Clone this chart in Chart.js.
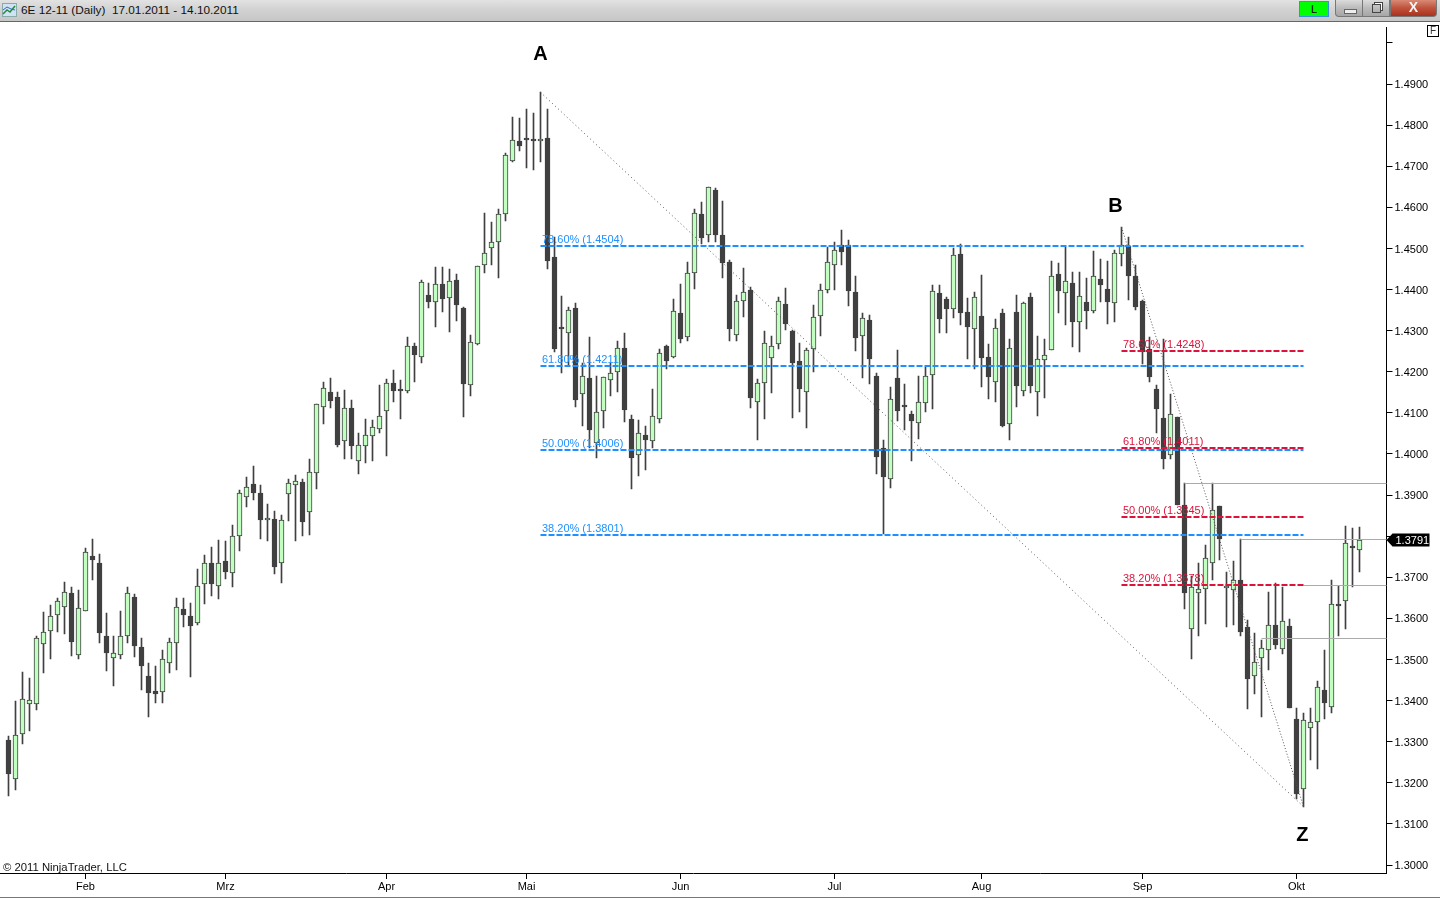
<!DOCTYPE html>
<html>
<head>
<meta charset="utf-8">
<title>6E 12-11 (Daily)</title>
<script src="https://cdn.jsdelivr.net/npm/chart.js@4"></script>
<style>
  html, body { margin:0; padding:0; background:#fff; overflow:hidden; }
  #wrap { position:relative; width:1440px; height:900px; font-family:"Liberation Sans", Arial, sans-serif; }
  #plot { position:absolute; left:0; top:0; }
  #bar { position:absolute; left:0; top:0; width:1440px; height:21px; background:linear-gradient(#e2e2e2,#d2d2d2 45%,#c6c6c6); border-bottom:1px solid #666; }
  #bar .title { position:absolute; left:21px; top:3px; font-size:11.8px; line-height:15px; color:#111; white-space:pre; }
  #bar svg { position:absolute; left:2px; top:3px; }
  .live { position:absolute; left:1299px; top:1px; width:28px; height:14px; background:#00ff00; border:1px solid #3a8fe0; font-size:11px; line-height:14px; text-align:center; color:#000; }
  .win { position:absolute; top:0; height:17px; border:1px solid #777; border-top:none; box-sizing:border-box; background:linear-gradient(#dcdcdc,#bbb 50%,#a6a6a6); }
  .win i { position:absolute; display:block; }
  #min { left:1335px; width:28px; border-radius:0 0 0 4px; }
  #min i { left:8px; top:9px; width:11px; height:3px; background:#eee; border:1px solid #666; }
  #res { left:1362px; width:28px; }
  #res i { left:9px; top:4px; width:7px; height:7px; border:1px solid #444; box-shadow:2px -2px 0 -1px #fff, 2px -2px 0 0 #444; }
  #cls { left:1390px; width:47px; border-radius:0 0 4px 0; background:linear-gradient(#d98a76,#c0533c 50%,#a8321f); color:#f4f4f4; font:bold 14px/15px "Liberation Sans", Arial, sans-serif; text-align:center; }
  #fbox { position:absolute; left:1427px; top:25px; width:10px; height:10px; border:1px solid #000; font-size:10px; line-height:10px; text-align:center; color:#333; background:#fff; }
  #foot { position:absolute; left:0; top:897px; width:1440px; height:3px; background:#fff; border-top:1px solid #777; box-sizing:border-box; }
</style>
</head>
<body>
<div id="wrap">
  <canvas id="plot" width="1440" height="897"></canvas>
  <div id="bar">
    <svg width="16" height="15"><rect x="0.5" y="0.5" width="14" height="13" fill="#cfe3f5" stroke="#8aa"/><polyline points="1,11 5,7 8,9 13,3" fill="none" stroke="#2a8a3a" stroke-width="1.5"/><polyline points="1,7 5,4 9,6 13,7" fill="none" stroke="#3366cc"/></svg>
    <div class="title">6E 12-11 (Daily)  17.01.2011 - 14.10.2011</div>
    <div class="live">L</div>
    <div class="win" id="min"><i></i></div>
    <div class="win" id="res"><i></i></div>
    <div class="win" id="cls">X</div>
  </div>
  <div id="fbox">F</div>
  <div id="foot"></div>
</div>
<script>
// daily candles 17.01.2011 - 14.10.2011
var opens = [
  1.3304,1.3209,1.3318,1.3391,1.3391,1.3537,1.3569,1.3608,1.3627,1.3661,
  1.3510,1.3617,1.3751,1.3734,1.3556,1.3503,1.3510,1.3556,1.3651,1.3530,
  1.3459,1.3423,1.3420,1.3491,1.3539,1.3622,1.3605,1.3588,1.3683,1.3734,
  1.3680,1.3739,1.3710,1.3800,1.3895,1.3926,1.3904,1.3839,1.3841,1.3736,
  1.3902,1.3924,1.3931,1.3858,1.3953,1.4114,1.4150,1.4138,1.4031,1.4111,
  1.3982,1.4019,1.4043,1.4060,1.4104,1.4172,1.4157,1.4154,1.4262,1.4235,
  1.4386,1.4369,1.4413,1.4379,1.4423,1.4354,1.4167,1.4268,1.4459,1.4500,
  1.4517,1.4583,1.4712,1.4761,1.4766,1.4766,1.4761,1.4768,1.4479,1.4307,
  1.4294,1.4354,1.4145,1.4184,1.4026,1.4104,1.4179,1.4199,1.4257,1.4084,
  1.3997,1.4045,1.4031,1.4084,1.4262,1.4235,1.4342,1.4284,1.4440,1.4583,
  1.4534,1.4642,1.4532,1.4466,1.4289,1.4372,1.4398,1.4126,1.4172,1.4233,
  1.4267,1.4364,1.4299,1.4226,1.4150,1.4255,1.4335,1.4398,1.4459,1.4508,
  1.4508,1.4393,1.4286,1.4325,1.4189,1.4014,1.3938,1.4184,1.4117,1.4097,
  1.4075,1.4123,1.4191,1.4391,1.4376,1.4352,1.4486,1.4345,1.4303,1.4335,
  1.4235,1.4174,1.4342,1.4072,1.4345,1.4154,1.4381,1.4152,1.4228,1.4252,
  1.4437,1.4391,1.4415,1.4320,1.4369,1.4347,1.4425,1.4401,1.4367,1.4486,
  1.4505,1.4432,1.4372,1.4255,1.4157,1.4087,1.3997,1.4089,1.3875,1.3573,
  1.3661,1.3671,1.3734,1.3873,1.3673,1.3668,1.3693,1.3578,1.3459,1.3503,
  1.3522,1.3583,1.3525,1.3581,1.3355,1.3184,1.3333,1.3347,1.3425,1.3384,
  1.3632,1.3642,1.3773,1.3766
];
var highs = [
  1.3314,1.3399,1.3469,1.3455,1.3557,1.3616,1.3633,1.3649,1.3688,1.3676,
  1.3669,1.3771,1.3793,1.3756,1.3613,1.3557,1.3618,1.3676,1.3659,1.3552,
  1.3491,1.3483,1.3523,1.3552,1.3649,1.3649,1.3638,1.3720,1.3754,1.3774,
  1.3791,1.3788,1.3827,1.3912,1.3944,1.3971,1.3925,1.3878,1.3861,1.3852,
  1.3938,1.3948,1.3938,1.3989,1.4121,1.4174,1.4184,1.4150,1.4156,1.4131,
  1.4050,1.4084,1.4082,1.4168,1.4182,1.4204,1.4180,1.4285,1.4269,1.4423,
  1.4415,1.4454,1.4454,1.4449,1.4437,1.4358,1.4289,1.4458,1.4586,1.4564,
  1.4595,1.4732,1.4819,1.4817,1.4839,1.4829,1.4880,1.4839,1.4529,1.4384,
  1.4358,1.4367,1.4221,1.4284,1.4189,1.4188,1.4221,1.4274,1.4294,1.4094,
  1.4082,1.4067,1.4157,1.4255,1.4264,1.4376,1.4413,1.4466,1.4595,1.4612,
  1.4649,1.4646,1.4615,1.4472,1.4386,1.4452,1.4406,1.4182,1.4299,1.4286,
  1.4381,1.4403,1.4301,1.4269,1.4257,1.4363,1.4413,1.4503,1.4517,1.4545,
  1.4521,1.4433,1.4342,1.4337,1.4196,1.4034,1.4162,1.4252,1.4170,1.4104,
  1.4189,1.4211,1.4410,1.4410,1.4381,1.4500,1.4511,1.4379,1.4393,1.4435,
  1.4267,1.4328,1.4352,1.4281,1.4388,1.4369,1.4391,1.4286,1.4281,1.4469,
  1.4464,1.4504,1.4444,1.4444,1.4427,1.4493,1.4474,1.4469,1.4496,1.4552,
  1.4527,1.4461,1.4375,1.4284,1.4167,1.4279,1.4145,1.4091,1.3929,1.3702,
  1.3734,1.3778,1.3929,1.3873,1.3712,1.3739,1.3792,1.3595,1.3564,1.3548,
  1.3664,1.3685,1.3676,1.3598,1.3381,1.3369,1.3381,1.3447,1.3522,1.3693,
  1.3680,1.3826,1.3819,1.3822
];
var lows = [
  1.3169,1.3183,1.3295,1.3325,1.3376,1.3468,1.3500,1.3568,1.3563,1.3509,
  1.3500,1.3617,1.3694,1.3539,1.3473,1.3436,1.3502,1.3539,1.3507,1.3427,
  1.3359,1.3393,1.3393,1.3468,1.3475,1.3578,1.3458,1.3585,1.3636,1.3655,
  1.3646,1.3697,1.3677,1.3765,1.3872,1.3889,1.3794,1.3789,1.3709,1.3685,
  1.3838,1.3789,1.3801,1.3804,1.3916,1.4074,1.4113,1.4018,1.3989,1.3989,
  1.3952,1.3979,1.3984,1.4050,1.3994,1.4127,1.4084,1.4149,1.4176,1.4222,
  1.4354,1.4310,1.4346,1.4298,1.4324,1.4091,1.4140,1.4264,1.4441,1.4461,
  1.4429,1.4568,1.4710,1.4736,1.4697,1.4692,1.4711,1.4449,1.4247,1.4196,
  1.4213,1.4115,1.4069,1.4014,1.3991,1.4064,1.4140,1.4152,1.4079,1.3916,
  1.3947,1.3960,1.4015,1.4076,1.4208,1.4233,1.4271,1.4276,1.4402,1.4510,
  1.4517,1.4517,1.4429,1.4276,1.4276,1.4334,1.4113,1.4035,1.4086,1.4149,
  1.4256,1.4302,1.4088,1.4103,1.4064,1.4200,1.4288,1.4391,1.4400,1.4460,
  1.4361,1.4251,1.4186,1.4171,1.3952,1.3806,1.3918,1.4081,1.4059,1.3984,
  1.4037,1.4103,1.4110,1.4295,1.4295,1.4332,1.4315,1.4230,1.4208,1.4164,
  1.4135,1.4127,1.4065,1.4035,1.4115,1.4140,1.4149,1.4093,1.4137,1.4252,
  1.4344,1.4315,1.4261,1.4249,1.4303,1.4344,1.4371,1.4317,1.4320,1.4458,
  1.4375,1.4350,1.4220,1.4176,1.4052,1.3964,1.3987,1.3876,1.3624,1.3500,
  1.3556,1.3587,1.3694,1.3741,1.3578,1.3584,1.3556,1.3380,1.3415,1.3359,
  1.3475,1.3526,1.3514,1.3381,1.3161,1.3142,1.3256,1.3234,1.3355,1.3371,
  1.3558,1.3573,1.3677,1.3714
];
var closes = [
  1.3222,1.3316,1.3403,1.3401,1.3552,1.3566,1.3605,1.3642,1.3664,1.3543,
  1.3625,1.3761,1.3741,1.3565,1.3517,1.3515,1.3556,1.3661,1.3534,1.3483,
  1.3419,1.3415,1.3500,1.3542,1.3627,1.3609,1.3582,1.3678,1.3734,1.3683,
  1.3736,1.3712,1.3800,1.3904,1.3919,1.3904,1.3839,1.3843,1.3724,1.3839,
  1.3929,1.3934,1.3835,1.3955,1.4121,1.4160,1.4130,1.4023,1.4111,1.4020,
  1.4021,1.4047,1.4065,1.4092,1.4172,1.4154,1.4154,1.4262,1.4240,1.4418,
  1.4371,1.4413,1.4378,1.4420,1.4363,1.4171,1.4272,1.4458,1.4488,1.4517,
  1.4583,1.4727,1.4763,1.4749,1.4764,1.4762,1.4766,1.4470,1.4256,1.4305,
  1.4350,1.4132,1.4189,1.4059,1.4101,1.4187,1.4196,1.4257,1.4106,1.3991,
  1.4050,1.4035,1.4092,1.4245,1.4227,1.4347,1.4279,1.4440,1.4586,1.4526,
  1.4649,1.4534,1.4464,1.4303,1.4372,1.4393,1.4137,1.4172,1.4269,1.4262,
  1.4372,1.4316,1.4221,1.4159,1.4252,1.4333,1.4398,1.4466,1.4496,1.4492,
  1.4397,1.4283,1.4330,1.4232,1.3993,1.3945,1.4135,1.4105,1.4115,1.4081,
  1.4126,1.4189,1.4396,1.4329,1.4352,1.4483,1.4344,1.4310,1.4381,1.4234,
  1.4188,1.4306,1.4069,1.4257,1.4166,1.4367,1.4166,1.4230,1.4240,1.4432,
  1.4396,1.4420,1.4322,1.4384,1.4349,1.4432,1.4410,1.4371,1.4488,1.4508,
  1.4432,1.4358,1.4249,1.4188,1.4110,1.3987,1.4097,1.3877,1.3661,1.3676,
  1.3671,1.3746,1.3863,1.3792,1.3678,1.3693,1.3568,1.3453,1.3493,1.3527,
  1.3583,1.3536,1.3593,1.3381,1.3172,1.3352,1.3347,1.3432,1.3393,1.3634,
  1.3629,1.3783,1.3771,1.3791
];

var monthLabels = ["Feb","Mrz","Apr","Mai","Jun","Jul","Aug","Sep","Okt"];
var monthStarts = [11,31,54,74,96,118,139,162,184];
var priceTicks = [1.30,1.31,1.32,1.33,1.34,1.35,1.36,1.37,1.38,1.39,1.40,1.41,1.42,1.43,1.44,1.45,1.46,1.47,1.48,1.49,1.50];
var hiddenTicks = [1.38,1.50]; // 1.38 sits under the price tag, 1.50 has no label

// fibonacci retracements, A-Z in blue, B-Z in red
var blueLevels = [1.45061,1.42141,1.40097,1.38029];
var blueTexts = ["78.60% (1.4504)","61.80% (1.4211)","50.00% (1.4006)","38.20% (1.3801)"];
var redLevels = [1.42506,1.40146,1.38467,1.36813];
var redTexts = ["78.60% (1.4248)","61.80% (1.4011)","50.00% (1.3845)","38.20% (1.3678)"];
var blueStart = 76, redStart = 159, fibEnd = 185;

// swing points
var waveNames = ["A","B","Z"];
var waveBars = [76,158.14,184.85];
var wavePrices = [1.4971,1.4601,1.3071];

// thin grey lines running out to the price axis
var greyLevels = [1.39282,1.37920,1.36800,1.35511];
var greyStarts = [168,176,185,179];

var axisStart = -1.21429, axisEnd = 196.857;
var lastPrice = closes[closes.length-1];

var wicks = [], upBodies = [], downBodies = [];
for(var i = 0; i < opens.length; i++){
  wicks.push({x:i, y:[lows[i], highs[i]]});
  if(closes[i] >= opens[i]) upBodies.push({x:i, y:[opens[i], closes[i]]});
  else downBodies.push({x:i, y:[closes[i], opens[i]]});
}

function hline(color, width, dash, x1, x2, y, order){
  return {type:"line", data:[{x:x1,y:y},{x:x2,y:y}], borderColor:color, borderWidth:width, borderDash:dash,
          pointRadius:0, order:order, clip:false};
}

var sets = [
  {type:"bar", data:wicks, backgroundColor:"#404040", barThickness:1, grouped:false, order:20},
  {type:"bar", data:upBodies, backgroundColor:"#c0ffc0", borderColor:"#404040", borderWidth:1, borderSkipped:false, barThickness:5, minBarLength:2, grouped:false, order:10},
  {type:"bar", data:downBodies, backgroundColor:"#404040", borderColor:"#404040", borderWidth:1, borderSkipped:false, barThickness:5, minBarLength:2, grouped:false, order:10},
  {type:"line", data:[{x:76,y:highs[76]},{x:185,y:lows[185]}], borderColor:"#555", borderWidth:1, borderDash:[1,3], pointRadius:0, order:3},
  {type:"line", data:[{x:159,y:highs[159]},{x:185,y:lows[185]}], borderColor:"#555", borderWidth:1, borderDash:[1,2], pointRadius:0, order:3}
];
greyLevels.forEach(function(v, k){ sets.push(hline("#aaaaaa", 1, [], greyStarts[k], axisEnd, v, 5)); });
blueLevels.forEach(function(v){ sets.push(hline("#1e90ff", 2, [6,2], blueStart, fibEnd, v, 2)); });
redLevels.forEach(function(v){ sets.push(hline("#dc143c", 2, [6,2], redStart, fibEnd, v, 1)); });

// the platform draws on whole pixels, so snap the bars too
var snapBars = {
  id:"snapBars",
  beforeDatasetsDraw:function(chart){
    for(var k = 0; k < 3; k++){
      chart.getDatasetMeta(k).data.forEach(function(el){
        el.x = Math.floor(el.x)+0.5;
        el.y = Math.round(el.y);
        el.base = Math.round(el.base);
        if(k > 0 && el.base - el.y < 2) el.base = el.y + 2;
      });
    }
  }
};

// texts on the plot and the black last price tag
var notes = {
  id:"notes",
  afterDraw:function(chart){
    var c = chart.ctx, xs = chart.scales.x, ys = chart.scales.y;
    c.save();
    c.textBaseline = "middle";
    c.textAlign = "left";
    c.font = '11px "Liberation Sans"';
    c.fillStyle = "#1e90ff";
    blueLevels.forEach(function(v, k){
      c.fillText(blueTexts[k], xs.getPixelForValue(blueStart)+1.5, ys.getPixelForValue(v)-6);
    });
    c.fillStyle = "#dc143c";
    redLevels.forEach(function(v, k){
      c.fillText(redTexts[k], xs.getPixelForValue(redStart)+1.5, ys.getPixelForValue(v)-6);
    });
    c.fillStyle = "#111";
    c.font = '11.3px "Liberation Sans"';
    c.fillText("\u00a9 2011 NinjaTrader, LLC", 3, 868);

    c.font = 'bold 20px "Liberation Sans"';
    c.textAlign = "center";
    c.fillStyle = "#000";
    waveNames.forEach(function(n, k){
      c.fillText(n, xs.getPixelForValue(waveBars[k]), ys.getPixelForValue(wavePrices[k]));
    });

    var py = ys.getPixelForValue(lastPrice), left = chart.chartArea.right;
    c.beginPath();
    c.moveTo(left, py);
    c.lineTo(left+6, py-6.5);
    c.lineTo(left+43, py-6.5);
    c.lineTo(left+43, py+6.5);
    c.lineTo(left+6, py+6.5);
    c.closePath();
    c.fill();
    c.font = '11px "Liberation Sans"';
    c.textAlign = "left";
    c.fillStyle = "#fff";
    c.fillText(lastPrice.toFixed(4), left+9, py+1);
    c.restore();
  }
};

new Chart(document.getElementById("plot"), {
  type:"bar",
  data:{datasets:sets},
  plugins:[snapBars, notes],
  options:{
    responsive:false,
    animation:false,
    layout:{padding:{top:27,left:0,right:0,bottom:0}},
    plugins:{legend:{display:false}, tooltip:{enabled:false}, title:{display:false}},
    scales:{
      x:{
        type:"linear", offset:false, min:axisStart, max:axisEnd,
        grid:{offset:false, drawOnChartArea:false, color:"#000", tickLength:6},
        border:{color:"#000"},
        afterBuildTicks:function(s){ s.ticks = monthStarts.map(function(v){ return {value:v}; }); },
        afterFit:function(s){ s.height = 24; },
        ticks:{
          autoSkip:false, maxRotation:0, padding:1, color:"#000",
          font:{family:"Liberation Sans", size:11},
          callback:function(v){ return monthLabels[monthStarts.indexOf(v)]; }
        }
      },
      y:{
        position:"right", min:1.298054, max:1.50389,
        grid:{drawOnChartArea:false, color:"#000", tickLength:6},
        border:{color:"#000"},
        afterBuildTicks:function(s){ s.ticks = priceTicks.map(function(v){ return {value:v}; }); },
        afterFit:function(s){ s.width = 53.5; },
        ticks:{
          autoSkip:false, padding:2, color:"#000",
          // two line label with a 2px line height pushes the text 1px down
          font:{family:"Liberation Sans", size:11, lineHeight:"2px"},
          callback:function(v){ return hiddenTicks.indexOf(v) >= 0 ? "" : ["", v.toFixed(4)]; }
        }
      }
    }
  }
});
</script>
</body>
</html>
